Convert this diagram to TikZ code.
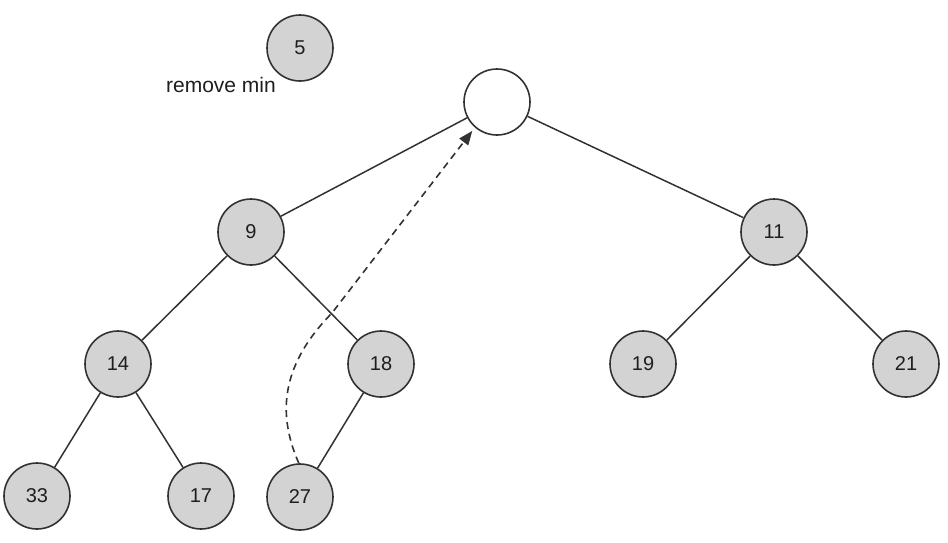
\documentclass[tikz,border=0pt]{standalone}
\usepackage{fontspec}
\setmainfont{Liberation Sans}
\usetikzlibrary{arrows.meta}
\definecolor{nodefill}{RGB}{211,211,211}
\definecolor{stroke}{RGB}{50,50,50}
\definecolor{txt}{RGB}{30,30,30}
\begin{document}
\begin{tikzpicture}[x=1pt,y=-1pt,
  heapnode/.style={circle,draw=stroke,line width=1.6pt,fill=nodefill,minimum size=66pt,inner sep=0pt,text=txt,font=\fontsize{20}{24}\selectfont},
  emptynode/.style={heapnode,fill=white},
  edge/.style={draw=stroke,line width=1.5pt},
  moveline/.style={draw=stroke,line width=1.6pt,dash pattern=on 7pt off 5pt,-{Triangle[length=14pt,width=11pt]}}]
\useasboundingbox (0,0) rectangle (948,542);
\node[heapnode] (n5) at (300,48) {5};
\node[text=txt,font=\fontsize{21}{24}\selectfont,anchor=base east,inner sep=0pt] (lbl) at (276,92) {remove min};
\node[emptynode] (root) at (497,102) {};
\node[heapnode] (n9) at (251,232) {9};
\node[heapnode] (n11) at (774,232) {11};
\node[heapnode] (n14) at (118,364) {14};
\node[heapnode] (n18) at (381,364) {18};
\node[heapnode] (n19) at (643,364) {19};
\node[heapnode] (n21) at (906,364) {21};
\node[heapnode] (n33) at (37,496) {33};
\node[heapnode] (n17) at (201,496) {17};
\node[heapnode] (n27) at (300,497) {27};
\draw[edge] (root) -- (n9);
\draw[edge] (root) -- (n11);
\draw[edge] (n9) -- (n14);
\draw[edge] (n9) -- (n18);
\draw[edge] (n11) -- (n19);
\draw[edge] (n11) -- (n21);
\draw[edge] (n14) -- (n33);
\draw[edge] (n14) -- (n17);
\draw[edge] (n18) -- (n27);
\coordinate (bend) at (332,313);
\draw[moveline] (n27.92) .. controls (280,420) and (276,370) .. (bend) -- ([shift={(-3pt,-3pt)}]root.230);
\end{tikzpicture}
\end{document}
